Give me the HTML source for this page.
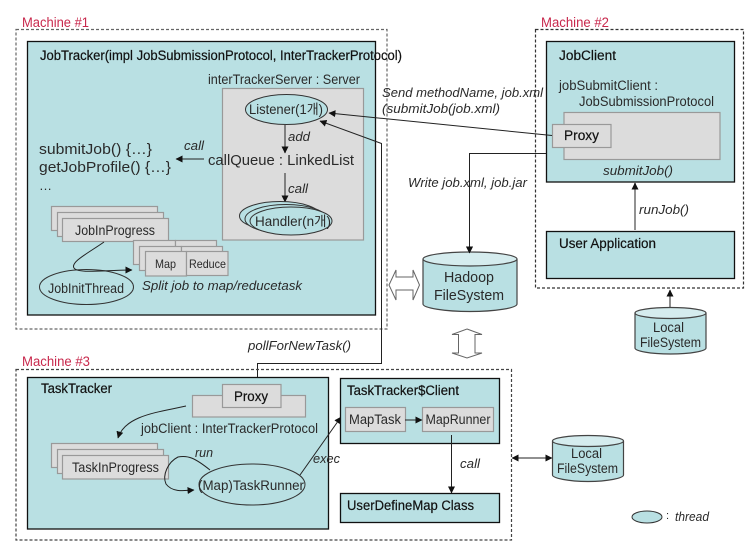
<!DOCTYPE html>
<html><head><meta charset="utf-8"><style>
html,body{margin:0;padding:0;background:#fff}
svg{display:block;filter:blur(.3px)}
text{font-family:"Liberation Sans","Noto Sans CJK KR",sans-serif;font-size:13.5px;fill:#2a2a2a}
.i{font-style:italic;font-size:12.5px}
.h{fill:#111;stroke:#111;stroke-width:.2}
.m{fill:#c8284c}
.box{fill:#b9e0e3;stroke:#111;stroke-width:1.3}
.g{fill:#dcdcdc;stroke:#999;stroke-width:1.2}
.dash{fill:none;stroke:#666;stroke-width:1.2;stroke-dasharray:3 2}
.e{fill:#b9e0e3;stroke:#333;stroke-width:1}
.l{fill:none;stroke:#222;stroke-width:1}
.cy{fill:#b9e0e3;stroke:#444;stroke-width:1.2}
.ct{fill:#d5ecee;stroke:#444;stroke-width:1.2}
</style></head><body>
<svg width="750" height="542" viewBox="0 0 750 542" xmlns="http://www.w3.org/2000/svg">
<defs><marker id="a" markerWidth="8" markerHeight="8" refX="6.5" refY="3.5" orient="auto" markerUnits="userSpaceOnUse"><path d="M0,0L7,3.5L0,7z" fill="#111"/></marker>
<marker id="b" markerWidth="8" markerHeight="8" refX="0.5" refY="3.5" orient="auto" markerUnits="userSpaceOnUse"><path d="M7,0L0,3.5L7,7z" fill="#111"/></marker></defs>

<!-- Machine 1 -->
<rect class="dash" x="16" y="29.5" width="371" height="299.5"/>
<text class="m" x="22" y="27" textLength="67" lengthAdjust="spacingAndGlyphs">Machine #1</text>
<rect class="box" x="27.5" y="41.5" width="348" height="273.5"/>
<text class="h" x="40" y="60" textLength="362" lengthAdjust="spacingAndGlyphs">JobTracker(impl JobSubmissionProtocol, InterTrackerProtocol)</text>
<text x="208" y="84" textLength="152" lengthAdjust="spacingAndGlyphs">interTrackerServer : Server</text>
<rect class="g" x="222.5" y="88.5" width="141" height="151.5"/>
<ellipse class="e" cx="286.5" cy="109.5" rx="41" ry="15"/>
<text x="249" y="114" textLength="74" lengthAdjust="spacingAndGlyphs">Listener(1개)</text>
<line x1="285" y1="125" x2="285" y2="153" stroke="#444" stroke-width="1.2" marker-end="url(#a)"/>
<text class="i" x="288" y="141" textLength="22" lengthAdjust="spacingAndGlyphs">add</text>
<text x="208" y="165" style="font-size:15px" textLength="146" lengthAdjust="spacingAndGlyphs">callQueue : LinkedList</text>
<line x1="285" y1="173" x2="285" y2="202" stroke="#444" stroke-width="1.2" marker-end="url(#a)"/>
<text class="i" x="288" y="193" textLength="20" lengthAdjust="spacingAndGlyphs">call</text>
<ellipse class="e" cx="280" cy="216" rx="40.5" ry="14.5"/>
<ellipse class="e" cx="286" cy="219" rx="41" ry="14.5"/>
<ellipse class="e" cx="291" cy="221" rx="41" ry="14"/>
<text x="255" y="226" textLength="76" lengthAdjust="spacingAndGlyphs">Handler(n개)</text>
<line x1="204" y1="159" x2="176" y2="159" class="l" marker-end="url(#a)"/>
<text class="i" x="184" y="150" textLength="20" lengthAdjust="spacingAndGlyphs">call</text>
<text x="39" y="154" style="font-size:15px" textLength="113" lengthAdjust="spacingAndGlyphs">submitJob() {…}</text>
<text x="39" y="172" style="font-size:15px" textLength="132" lengthAdjust="spacingAndGlyphs">getJobProfile() {…}</text>
<text x="39" y="190" style="font-size:13px">…</text>
<rect class="g" x="51.5" y="206.5" width="106" height="24"/>
<rect class="g" x="57.5" y="212.5" width="106" height="24"/>
<rect class="g" x="62.5" y="218.5" width="106" height="23"/>
<text x="75" y="235" textLength="80" lengthAdjust="spacingAndGlyphs">JobInProgress</text>
<rect class="g" x="133.5" y="240.5" width="42" height="24"/><rect class="g" x="175.5" y="240.5" width="41" height="24"/>
<rect class="g" x="139.5" y="246.5" width="42" height="24"/><rect class="g" x="181.5" y="246.5" width="41" height="24"/>
<rect class="g" x="145.5" y="251.5" width="41" height="24.5"/><rect class="g" x="186.5" y="251.5" width="41.5" height="24"/>
<text x="155" y="268" style="font-size:12px" textLength="21" lengthAdjust="spacingAndGlyphs">Map</text>
<text x="189" y="268" style="font-size:12px" textLength="37" lengthAdjust="spacingAndGlyphs">Reduce</text>
<ellipse class="e" cx="86.5" cy="287" rx="47" ry="17.5"/>
<text x="48" y="293" textLength="76" lengthAdjust="spacingAndGlyphs">JobInitThread</text>
<path class="l" d="M104,242C90,252 70,262 74,268C78,274 105,270 132,270" marker-end="url(#a)"/>
<text class="i" x="142" y="290" textLength="160" lengthAdjust="spacingAndGlyphs">Split job to map/reducetask</text>

<!-- Machine 2 -->
<rect class="dash" x="535.5" y="29.5" width="208" height="258.5" style="stroke:#333"/>
<text class="m" x="541" y="27" textLength="68" lengthAdjust="spacingAndGlyphs">Machine #2</text>
<rect class="box" x="546.5" y="41.5" width="188" height="140.5"/>
<text class="h" x="559" y="60" textLength="57" lengthAdjust="spacingAndGlyphs">JobClient</text>
<text x="559" y="90" textLength="99" lengthAdjust="spacingAndGlyphs">jobSubmitClient :</text>
<text x="579" y="106" textLength="135" lengthAdjust="spacingAndGlyphs">JobSubmissionProtocol</text>
<rect class="g" x="564" y="112.5" width="156" height="47"/>
<rect class="g" x="552.5" y="124.5" width="58.5" height="23"/>
<text class="h" x="564" y="140" textLength="35" lengthAdjust="spacingAndGlyphs">Proxy</text>
<text class="i" x="603" y="175" textLength="70" lengthAdjust="spacingAndGlyphs">submitJob()</text>
<rect class="box" x="546.5" y="231.5" width="188" height="47"/>
<text class="h" x="559" y="248" textLength="97" lengthAdjust="spacingAndGlyphs">User Application</text>
<line x1="635" y1="230" x2="635" y2="183" stroke="#777" stroke-width="1.6" marker-end="url(#a)"/>
<text class="i" x="639" y="214" textLength="50" lengthAdjust="spacingAndGlyphs">runJob()</text>
<path class="cy" d="M635,313V348C635,351 650,354 670.5,354S706,351 706,348V313"/>
<ellipse class="ct" cx="670.5" cy="313" rx="35.5" ry="5.5"/>
<line x1="670" y1="307" x2="670" y2="290" stroke="#444" stroke-width="1.2" marker-end="url(#a)"/>
<text x="653" y="332" textLength="31" lengthAdjust="spacingAndGlyphs">Local</text>
<text x="640" y="347" textLength="61" lengthAdjust="spacingAndGlyphs">FileSystem</text>

<!-- Connectors centre -->
<line x1="552" y1="135.5" x2="329" y2="113" class="l" marker-end="url(#a)"/>
<path class="l" d="M546,153.5H469.5V253" marker-end="url(#a)"/>
<text class="i" x="382" y="97" textLength="161" lengthAdjust="spacingAndGlyphs">Send methodName, job.xml</text>
<text class="i" x="382" y="113" textLength="118" lengthAdjust="spacingAndGlyphs">(submitJob(job.xml)</text>
<text class="i" x="408" y="187" textLength="119" lengthAdjust="spacingAndGlyphs">Write job.xml, job.jar</text>
<path class="l" d="M257.5,381V363.5H381.5V143.5L320,121" marker-end="url(#a)"/>
<text class="i" x="248" y="350" textLength="103" lengthAdjust="spacingAndGlyphs">pollForNewTask()</text>

<path class="cy" d="M423,259V304C423,308 445,311.5 470,311.5S517,308 517,304V259"/>
<ellipse class="ct" cx="470" cy="259" rx="47" ry="7"/>
<line x1="469.5" y1="245" x2="469.5" y2="253" class="l" marker-end="url(#a)"/>
<text x="444" y="282" style="font-size:15px" textLength="50" lengthAdjust="spacingAndGlyphs">Hadoop</text>
<text x="434" y="300" style="font-size:15px" textLength="70" lengthAdjust="spacingAndGlyphs">FileSystem</text>
<path d="M389,285L396,270V277H413V270L419.5,285L413,300V290H396V300Z" fill="#fff" stroke="#666"/>
<path d="M467,329L482,334.5H475V353H482L467,358L452,353H458.5V334.5H452Z" fill="#fff" stroke="#666"/>

<!-- Machine 3 -->
<rect class="dash" x="16" y="369.5" width="495.5" height="170.5" style="stroke:#444"/>
<text class="m" x="22" y="366" textLength="68" lengthAdjust="spacingAndGlyphs">Machine #3</text>
<rect class="box" x="27.5" y="377.5" width="301" height="151.5"/>
<text class="h" x="41" y="393" textLength="71" lengthAdjust="spacingAndGlyphs">TaskTracker</text>
<rect class="g" x="192.5" y="395.5" width="113" height="21.5"/>
<rect class="g" x="222.5" y="384.5" width="58.5" height="23"/>
<text class="h" x="234" y="401" textLength="34" lengthAdjust="spacingAndGlyphs">Proxy</text>
<text x="141" y="433" textLength="177" lengthAdjust="spacingAndGlyphs">jobClient : InterTrackerProtocol</text>
<path class="l" d="M186,406C160,412 125,415 118,438" marker-end="url(#a)"/>
<rect class="g" x="51.5" y="443.5" width="106" height="24"/>
<rect class="g" x="57.5" y="449.5" width="106" height="24"/>
<rect class="g" x="62.5" y="455.5" width="106" height="23.5"/>
<text x="72" y="472" textLength="87" lengthAdjust="spacingAndGlyphs">TaskInProgress</text>
<ellipse class="e" cx="252" cy="484.5" rx="53" ry="20.5"/>
<text x="198" y="490" textLength="106" lengthAdjust="spacingAndGlyphs">(Map)TaskRunner</text>
<path class="l" d="M210,470C195,458 188,455 178,457C168,462 162,475 166,484C172,492 182,491 194,490" marker-end="url(#a)"/>
<text class="i" x="195" y="457" textLength="18" lengthAdjust="spacingAndGlyphs">run</text>
<line x1="300" y1="475" x2="341" y2="417" class="l" marker-end="url(#a)"/>
<text class="i" x="313" y="463" textLength="27" lengthAdjust="spacingAndGlyphs">exec</text>

<rect class="box" x="340.5" y="378.5" width="159" height="65"/>
<text class="h" x="347" y="395" textLength="112" lengthAdjust="spacingAndGlyphs">TaskTracker$Client</text>
<rect class="g" x="345.5" y="407.5" width="60" height="24"/>
<rect class="g" x="422.5" y="407.5" width="71" height="24"/>
<text x="349" y="424" textLength="52" lengthAdjust="spacingAndGlyphs">MapTask</text>
<text x="425.5" y="424" textLength="65" lengthAdjust="spacingAndGlyphs">MapRunner</text>
<line x1="405" y1="420" x2="422" y2="420" class="l" marker-end="url(#a)"/>
<line x1="451.5" y1="435" x2="451.5" y2="493" class="l" marker-end="url(#a)"/>
<text class="i" x="460" y="468" textLength="20" lengthAdjust="spacingAndGlyphs">call</text>
<rect class="box" x="340.5" y="493.5" width="159" height="29"/>
<text class="h" x="347" y="510" textLength="127" lengthAdjust="spacingAndGlyphs">UserDefineMap Class</text>

<line x1="512" y1="458" x2="552" y2="458" class="l" marker-start="url(#b)" marker-end="url(#a)"/>
<path class="cy" d="M552.5,441V475C552.5,478 568,481.5 588,481.5S623.5,478 623.5,475V441"/>
<ellipse class="ct" cx="588" cy="441" rx="35.5" ry="5.5"/>
<text x="571" y="458" textLength="31" lengthAdjust="spacingAndGlyphs">Local</text>
<text x="557" y="473" textLength="61" lengthAdjust="spacingAndGlyphs">FileSystem</text>

<ellipse class="e" cx="647" cy="517" rx="15" ry="6"/>
<text x="666" y="519" style="font-size:11px">:</text>
<text class="i" x="675" y="521" textLength="34" lengthAdjust="spacingAndGlyphs">thread</text>
</svg>
</body></html>
